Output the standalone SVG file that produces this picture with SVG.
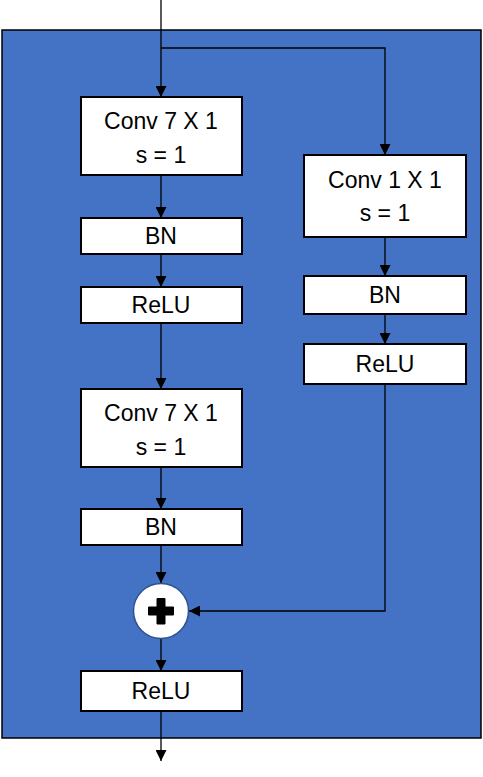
<svg xmlns="http://www.w3.org/2000/svg" width="483" height="777" viewBox="0 0 483 777">
<defs>
<marker id="arr" viewBox="0 0 10 10" refX="10" refY="5" markerWidth="11" markerHeight="11" markerUnits="userSpaceOnUse" orient="auto">
<path d="M0,0 L10,5 L0,10 Z" fill="#000"/>
</marker>
</defs>
<style>
.box{fill:#fff;stroke:#000;stroke-width:2}
.lbl{font-family:"Liberation Sans",Arial,sans-serif;font-size:23px;fill:#000;text-anchor:middle}
.c{fill:none;stroke:#000;stroke-width:1.3;marker-end:url(#arr)}
</style>
<rect x="2" y="30" width="479" height="708" fill="#4472C4" stroke="#000" stroke-width="1.5"/>
<g id="connectors">
<path class="c" d="M161,0 V97"/>
<path class="c" d="M161,48 H385 V155"/>
<path class="c" d="M161,175 V218"/>
<path class="c" d="M161,254 V287"/>
<path class="c" d="M161,323 V389"/>
<path class="c" d="M161,467 V509"/>
<path class="c" d="M161,545 V583"/>
<path class="c" d="M385,237 V276"/>
<path class="c" d="M385,314 V344"/>
<path class="c" d="M385,384 V611 H189"/>
<path class="c" d="M161,639 V671"/>
<path class="c" d="M161,711 V761"/>
</g>
<g id="conv1">
<rect class="box" x="81" y="97" width="161" height="78"/>
<text class="lbl" x="161" y="129">Conv 7 X 1</text>
<text class="lbl" x="161" y="163">s = 1</text>
</g>
<g id="bn1">
<rect class="box" x="81" y="218" width="161" height="36"/>
<text class="lbl" x="161" y="244">BN</text>
</g>
<g id="relu1">
<rect class="box" x="81" y="287" width="161" height="36"/>
<text class="lbl" x="161" y="313">ReLU</text>
</g>
<g id="conv2">
<rect class="box" x="81" y="389" width="161" height="78"/>
<text class="lbl" x="161" y="421">Conv 7 X 1</text>
<text class="lbl" x="161" y="455">s = 1</text>
</g>
<g id="bn2">
<rect class="box" x="81" y="509" width="161" height="36"/>
<text class="lbl" x="161" y="535">BN</text>
</g>
<g id="add">
<circle cx="161" cy="611" r="27.5" fill="#fff" stroke="#2F528F" stroke-width="1.5"/>
<path d="M157,598.5 h8 v8.5 h8.5 v8 h-8.5 v9 h-8 v-9 h-8.5 v-8 h8.5 Z" fill="#000" stroke="#000" stroke-width="1" stroke-linejoin="round"/>
</g>
<g id="relu3">
<rect class="box" x="81" y="671" width="161" height="40"/>
<text class="lbl" x="161" y="699">ReLU</text>
</g>
<g id="conv3">
<rect class="box" x="304" y="155" width="162" height="82"/>
<text class="lbl" x="385" y="188">Conv 1 X 1</text>
<text class="lbl" x="385" y="221">s = 1</text>
</g>
<g id="bn3">
<rect class="box" x="304" y="276" width="162" height="38"/>
<text class="lbl" x="385" y="303">BN</text>
</g>
<g id="relu2">
<rect class="box" x="304" y="344" width="162" height="40"/>
<text class="lbl" x="385" y="372">ReLU</text>
</g>
</svg>
